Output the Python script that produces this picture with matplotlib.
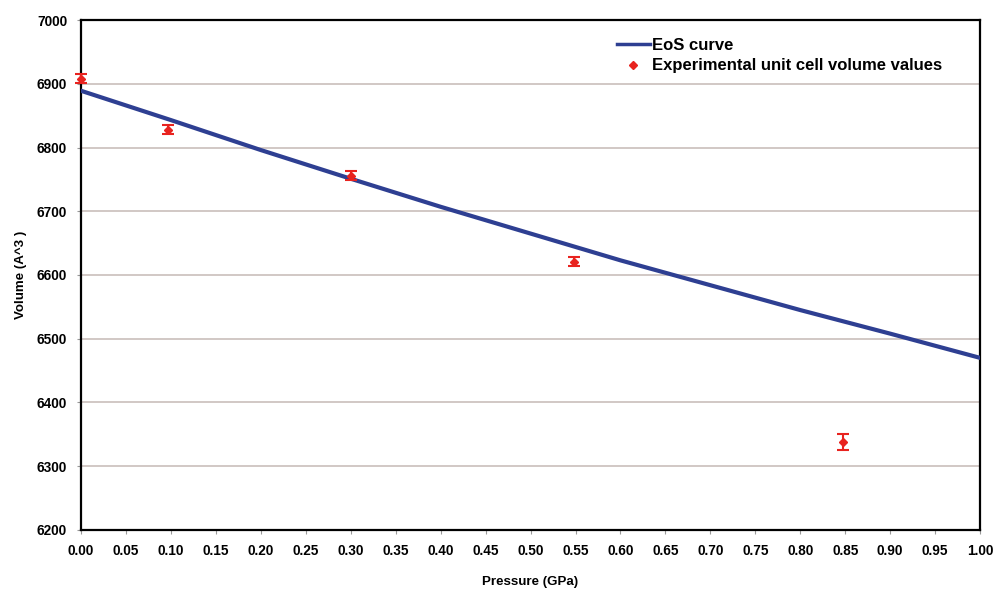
import matplotlib.pyplot as plt
from matplotlib.lines import Line2D

plt.rcParams['font.family'] = ['Liberation Sans', 'DejaVu Sans']

# EoS curve
eos_p = [0.0, 0.1, 0.2, 0.3, 0.4, 0.5, 0.6, 0.7, 0.8, 0.9, 1.0]
eos_v = [6889, 6843, 6796, 6751, 6707, 6665, 6623, 6584, 6545, 6508, 6470]

# experimental unit cell volumes
exp_p = [0.0, 0.097, 0.30, 0.548, 0.848]
exp_v = [6908, 6828, 6756, 6621, 6338]
exp_err = [7, 7, 7, 7, 12]

red = '#e8231f'
blue = '#2e3f92'

fig = plt.figure(figsize=(9.94, 5.90), dpi=100)
ax = fig.add_axes([0.0815, 0.1017, 0.9045, 0.8644])

ax.plot(eos_p, eos_v, color=blue, lw=3, zorder=3)
ax.errorbar(exp_p, exp_v, yerr=exp_err, fmt='D', color=red, ms=4,
            elinewidth=1.5, capsize=4, capthick=1.5, clip_on=False, zorder=4)

ax.set_xlim(0, 1.0)
ax.set_ylim(6200, 7000)
ax.set_xticks([i * 0.05 for i in range(21)])
ax.set_xticklabels([f'{i * 0.05:.2f}' for i in range(21)])
ax.set_yticks(range(6200, 7001, 100))
ax.yaxis.grid(True, color='#c9bfbb', lw=1.2)
ax.set_axisbelow(True)
for s in ax.spines.values():
    s.set_linewidth(1.6)
    s.set_color('black')
ax.tick_params(axis='both', direction='out', length=3, color='#999999',
               labelsize=9.8, pad=7)
for lab in ax.get_xticklabels() + ax.get_yticklabels():
    lab.set_fontweight('bold')

ax.set_xlabel('Pressure (GPa)', fontsize=9.6, fontweight='bold', labelpad=13)
ax.set_ylabel('Volume (A^3 )', fontsize=9.6, fontweight='bold', labelpad=7)

handles = [Line2D([], [], color=blue, lw=2.5),
           Line2D([], [], color=red, marker='D', ms=4, ls='none')]
labels = ['EoS curve', 'Experimental unit cell volume values']
ax.legend(handles, labels, loc='upper right', bbox_to_anchor=(0.975, 0.995),
          frameon=False, prop={'size': 12, 'weight': 'bold'},
          handlelength=2.0, handletextpad=0.15, labelspacing=0.35)

fig.savefig('out.png', dpi=100)
